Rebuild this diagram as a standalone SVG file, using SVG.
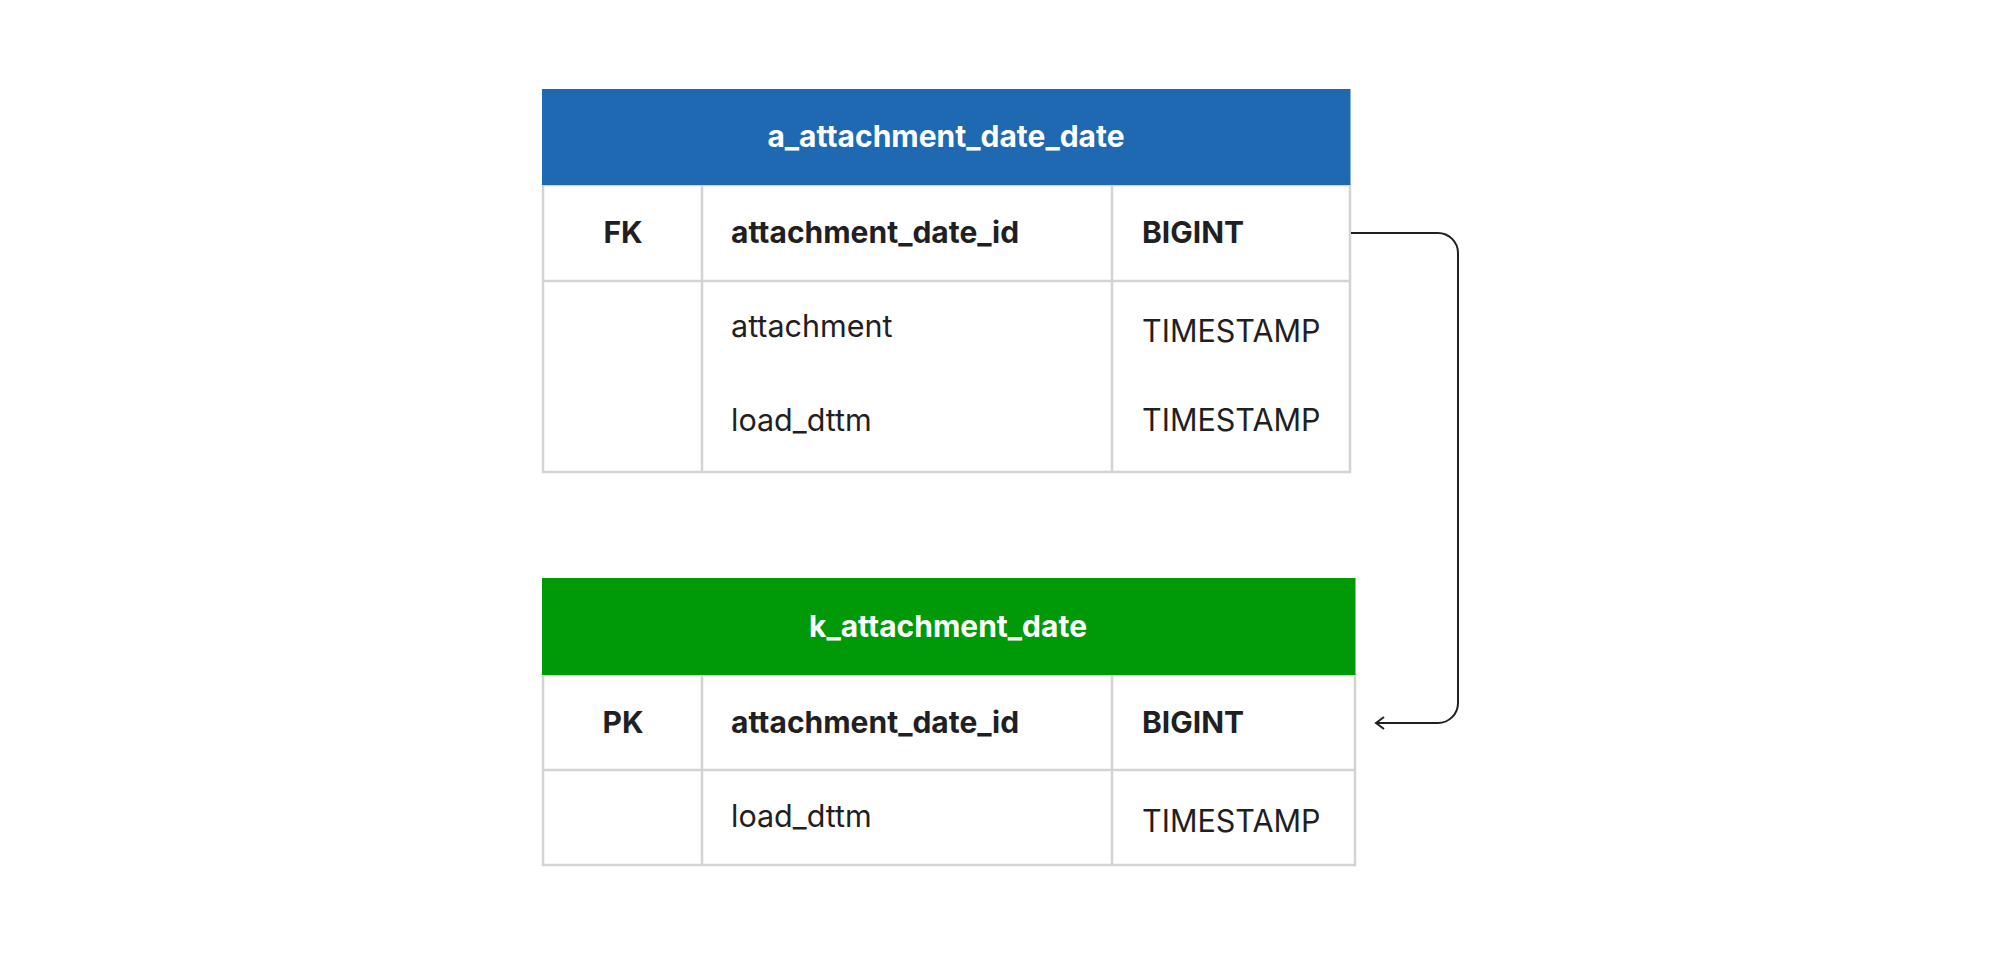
<svg xmlns="http://www.w3.org/2000/svg" width="2000" height="955" viewBox="0 0 2000 955">
<defs>
<style>
.bg{fill:#ffffff}
.cell{fill:#ffffff;stroke:#d2d2d7;stroke-width:2.5}
.grid{stroke:#d2d2d7;stroke-width:2.5;fill:none}
.hdrA{fill:#1e69b2}
.hdrB{fill:#009908}
.ht{font-family:Inter,"Liberation Sans",sans-serif;font-weight:700;font-size:30px;fill:#ffffff;text-anchor:middle}
.b{font-family:Inter,"Liberation Sans",sans-serif;font-weight:700;font-size:30px;fill:#1f1f24}
.r{font-family:Inter,"Liberation Sans",sans-serif;font-weight:400;font-size:30.5px;fill:#1f1f24}
.k{text-anchor:middle}
.conn{fill:none;stroke:#1f1f24;stroke-width:2}
</style>
<marker id="arr" markerWidth="14" markerHeight="14" refX="9" refY="7" orient="auto" markerUnits="userSpaceOnUse">
<path d="M1,1 L9,7 L1,13" fill="none" stroke="#1f1f24" stroke-width="2"/>
</marker>
</defs>
<rect class="bg" x="0" y="0" width="2000" height="955"/>
<g id="a_attachment_date_date">
<rect class="cell" x="543" y="185" width="807" height="287"/>
<rect class="hdrA" x="542" y="89" width="808.5" height="96"/>
<line class="grid" x1="543" y1="281" x2="1350" y2="281"/>
<line class="grid" x1="702" y1="185" x2="702" y2="472"/>
<line class="grid" x1="1112" y1="185" x2="1112" y2="472"/>
<text class="ht" x="946" y="147">a_attachment_date_date</text>
<text class="b k" x="623" y="243">FK</text>
<text class="b" x="731" y="243">attachment_date_id</text>
<text class="b" x="1142" y="243">BIGINT</text>
<text class="r" x="731" y="337">attachment</text>
<text class="r" x="1142" y="342">TIMESTAMP</text>
<text class="r" x="731" y="431">load_dttm</text>
<text class="r" x="1142" y="431">TIMESTAMP</text>
</g>
<g id="k_attachment_date">
<rect class="cell" x="543" y="675" width="812" height="190"/>
<rect class="hdrB" x="542" y="578" width="813.5" height="97"/>
<line class="grid" x1="543" y1="770" x2="1355" y2="770"/>
<line class="grid" x1="702" y1="675" x2="702" y2="865"/>
<line class="grid" x1="1112" y1="675" x2="1112" y2="865"/>
<text class="ht" x="948" y="637">k_attachment_date</text>
<text class="b k" x="623" y="733">PK</text>
<text class="b" x="731" y="733">attachment_date_id</text>
<text class="b" x="1142" y="733">BIGINT</text>
<text class="r" x="731" y="827">load_dttm</text>
<text class="r" x="1142" y="832">TIMESTAMP</text>
</g>
<g id="connectors">
<path class="conn" d="M1351,233 H1438 A20,20 0 0 1 1458,253 V703 A20,20 0 0 1 1438,723 H1376" marker-end="url(#arr)"/>
</g>
</svg>
